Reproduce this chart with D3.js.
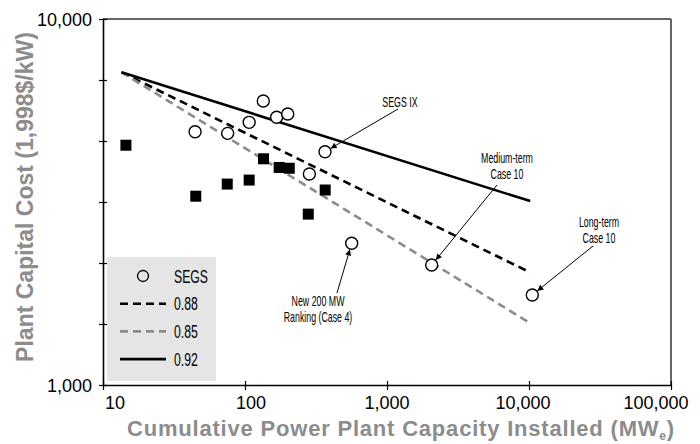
<!DOCTYPE html>
<html><head><meta charset="utf-8">
<script src="https://cdn.jsdelivr.net/npm/d3@7"></script>
<style>
html,body{margin:0;padding:0;background:#fff;}
svg{display:block;}
</style></head>
<body>
<svg id="chart" width="700" height="444"></svg>
<script>
// ---------- data ----------
const xTickValues = [10, 100, 1000, 10000, 100000];
const xTickLabels = ["10", "100", "1,000", "10,000", "100,000"];
const yTickValues = [1000, 1468, 2154, 3162, 4642, 6813, 10000];
const yTickLabels = {1000: "1,000", 10000: "10,000"};

// SEGS plants + projections (open circles)
const segsX = [44.5, 75.5, 107, 134.5, 167, 200, 366, 284, 564, 2064, 10550];
const segsY = [4920, 4870, 5220, 5970, 5390, 5500, 4340, 3770, 2440, 2127, 1762];
// other plants (filled squares)
const otherX = [14.5, 45, 75, 107, 135, 174, 205, 367, 279];
const otherY = [4520, 3280, 3540, 3630, 4150, 3930, 3910, 3410, 2930];

// experience curves: [start, end] points
const curveNames = ["0.88", "0.85", "0.92"];
const curveX = [[13.5, 10200], [13.5, 10200], [13.5, 10200]];
const curveY = [[7150, 2030], [7150, 1475], [7150, 3180]];

// annotations: arrow tail (data), target point (data), text lines
const annTexts = [["SEGS IX"], ["Medium-term", "Case 10"], ["Long-term", "Case 10"], ["New 200 MW", "Ranking (Case 4)"]];
const annTailX = [1195, 5952, 28230, 444.6];
const annTailY = [5676, 3519, 2398, 1784];
const annTargetX = [366, 2064, 10550, 564];
const annTargetY = [4340, 2127, 1762, 2440];

// ---------- chart ----------
const svg = d3.select("#chart");
const L = 103, R = 671, T = 19, B = 385;
const x = d3.scaleLog().domain([10, 100000]).range([L, R]);
const y = d3.scaleLog().domain([1000, 10000]).range([B, T]);

const tickFont = "'Liberation Sans', Arial, sans-serif";
const condFont = "'Liberation Sans', Arial, sans-serif";
const gray = "#8c8c8c";

// legend background (drawn first)
const lg = svg.append("g");
lg.append("rect").attr("x", 107).attr("y", 257).attr("width", 109).attr("height", 124).attr("fill", "#e5e5e5");

// frame (top/right)
svg.append("line").attr("x1", L).attr("x2", R).attr("y1", T).attr("y2", T).attr("stroke", "#333").attr("stroke-width", 1.5);
svg.append("line").attr("x1", R).attr("x2", R).attr("y1", T).attr("y2", B).attr("stroke", "#333").attr("stroke-width", 1.5);

// axes
const xAxis = d3.axisBottom(x).tickValues(xTickValues).tickSizeOuter(0).tickSizeInner(4).tickFormat(() => "");
const gx = svg.append("g").attr("transform", `translate(0,${B})`).call(xAxis);
gx.select(".domain").attr("stroke", "#000").attr("stroke-width", 1.6);
gx.selectAll(".tick line").attr("y1", -4).attr("y2", 5).attr("stroke-width", 1.2);

const yAxis = d3.axisLeft(y).tickValues(yTickValues).tickSizeOuter(0).tickSizeInner(4).tickFormat(() => "");
const gy = svg.append("g").attr("transform", `translate(${L},0)`).call(yAxis);
gy.select(".domain").attr("stroke", "#000").attr("stroke-width", 1.6);
gy.selectAll(".tick line").attr("x1", -4).attr("x2", 4).attr("stroke-width", 1.2);

// x tick labels
const xLabelShift = [12, 6, 0, -6, -15];
svg.append("g").selectAll("text").data(xTickValues).join("text")
  .attr("x", (d, i) => x(d) + xLabelShift[i]).attr("y", B + 24)
  .attr("text-anchor", "middle").attr("font-family", tickFont).attr("font-size", 18)
  .text((d, i) => xTickLabels[i]);
// y tick labels
svg.append("g").selectAll("text").data(yTickValues.filter(v => yTickLabels[v])).join("text")
  .attr("x", 92).attr("y", d => y(d) + 6.5)
  .attr("text-anchor", "end").attr("font-family", tickFont).attr("font-size", 18)
  .text(d => yTickLabels[d]);

// axis titles
svg.append("text").attr("transform", "translate(33,197) rotate(-90)")
  .attr("text-anchor", "middle").attr("font-family", tickFont).attr("font-weight", "bold")
  .attr("font-size", 23).attr("fill", gray).text("Plant Capital Cost (1,998$/kW)");
const xt = svg.append("text").attr("x", 401).attr("y", 436)
  .attr("text-anchor", "middle").attr("font-family", tickFont).attr("font-weight", "bold")
  .attr("font-size", 22).attr("letter-spacing", 0.8).attr("fill", gray);
xt.append("tspan").text("Cumulative Power Plant Capacity Installed (MW");
xt.append("tspan").attr("font-size", 12).attr("dy", 4).text("e");
xt.append("tspan").attr("dy", -4).text(")");

// curves
const curveStyle = {
  "0.88": {stroke: "#000", dash: "8,5"},
  "0.85": {stroke: "#8c8c8c", dash: "8,5"},
  "0.92": {stroke: "#000", dash: null}
};
const lineGen = d3.line().x(d => x(d[0])).y(d => y(d[1]));
curveNames.forEach((name, i) => {
  const pts = curveX[i].map((v, j) => [v, curveY[i][j]]);
  svg.append("path").datum(pts).attr("d", lineGen)
    .attr("fill", "none").attr("stroke", curveStyle[name].stroke)
    .attr("stroke-width", 2.6).attr("stroke-dasharray", curveStyle[name].dash);
});

// squares
const sq = 11;
svg.append("g").selectAll("rect").data(otherX.map((v, i) => [v, otherY[i]])).join("rect")
  .attr("x", d => x(d[0]) - sq / 2).attr("y", d => y(d[1]) - sq / 2)
  .attr("width", sq).attr("height", sq).attr("fill", "#000");

// circles
svg.append("g").selectAll("circle").data(segsX.map((v, i) => [v, segsY[i]])).join("circle")
  .attr("cx", d => x(d[0])).attr("cy", d => y(d[1])).attr("r", 6)
  .attr("fill", "#fff").attr("stroke", "#000").attr("stroke-width", 1.4);

// arrow marker
svg.append("defs").append("marker").attr("id", "arr").attr("viewBox", "0 0 10 10")
  .attr("refX", 10).attr("refY", 5).attr("markerWidth", 8).attr("markerHeight", 6)
  .attr("markerUnits", "userSpaceOnUse").attr("orient", "auto")
  .append("path").attr("d", "M0,0 L10,5 L0,10 z").attr("fill", "#000");

// annotations
const textOffsets = [[2, -2], [10, -6], [6, -3], [-19, 13]];
function condText(g, px, py, str, size, sx, anchor) {
  g.append("text").attr("transform", `translate(${px},${py}) scale(${sx},1)`)
    .attr("text-anchor", anchor).attr("font-family", condFont).attr("font-size", size).text(str);
}
annTexts.forEach((lines, i) => {
  const tx = x(annTailX[i]), ty = y(annTailY[i]);
  const cx = x(annTargetX[i]), cy = y(annTargetY[i]);
  const dx = tx - cx, dy = ty - cy, len = Math.hypot(dx, dy);
  const ex = cx + dx / len * 6.5, ey = cy + dy / len * 6.5;
  svg.append("line").attr("x1", tx).attr("y1", ty).attr("x2", ex).attr("y2", ey)
    .attr("stroke", "#000").attr("stroke-width", 1).attr("marker-end", "url(#arr)");
  const g = svg.append("g");
  const ox = tx + textOffsets[i][0];
  const n = lines.length;
  lines.forEach((s, k) => {
    let by;
    if (i === 3) by = ty + textOffsets[i][1] + k * 16;
    else by = ty + textOffsets[i][1] - (n - 1 - k) * 16;
    condText(g, ox, by, s, 14, 0.63, "middle");
  });
});

// legend entries
const legItems = [
  {label: "SEGS", type: "circle"},
  {label: "0.88", type: "line", stroke: "#000", dash: "8,5"},
  {label: "0.85", type: "line", stroke: "#8c8c8c", dash: "8,5"},
  {label: "0.92", type: "line", stroke: "#000", dash: null}
];
legItems.forEach((it, i) => {
  const cy = 276 + i * 27.7;
  if (it.type === "circle") {
    lg.append("circle").attr("cx", 143).attr("cy", cy).attr("r", 5.5)
      .attr("fill", "none").attr("stroke", "#000").attr("stroke-width", 1.3);
  } else {
    lg.append("line").attr("x1", 120).attr("x2", 166).attr("y1", cy).attr("y2", cy)
      .attr("stroke", it.stroke).attr("stroke-width", 2.6).attr("stroke-dasharray", it.dash);
  }
  condText(lg, 174, cy + 6.5, it.label, 18, 0.68, "start");
});
</script>
</body></html>
